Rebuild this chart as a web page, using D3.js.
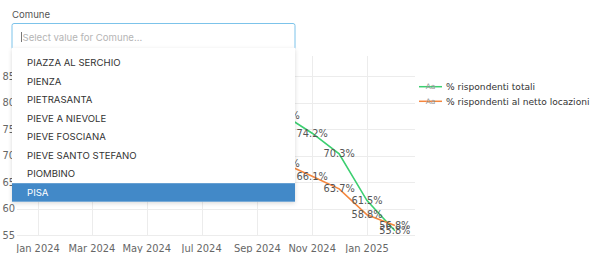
<!DOCTYPE html>
<html>
<head>
<style type="text/css">
body { margin: 0; background: #fff; }
.grid line { stroke: #ececec; stroke-width: 1; }
.axislabel { font-family: "DejaVu Sans"; font-size: 9.9px; fill: #666; }
.datalabel { font-family: "DejaVu Sans"; font-size: 9.8px; fill: #555; }
.legend text { font-family: "DejaVu Sans"; font-size: 9.1px; fill: #333; }
.ui { font-family: Inter, "Liberation Sans"; font-size: 9.6px; }
</style>
<script src="https://d3js.org/d3.v7.min.js"></script>
</head>
<body>
<script type="text/javascript">
var width  = 591;
var height = 253;

// monthly points, the early ones sit behind the open select menu
var months = ["2024-01-01","2024-02-01","2024-03-01","2024-04-01","2024-05-01","2024-06-01","2024-07-01",
              "2024-08-01","2024-09-01","2024-10-01","2024-11-01","2024-12-01","2025-01-01","2025-02-01"];
var totali = [83.9, 83.1, 82.6, 81.8, 81.2, 80.7, 79.9, 79.3, 78.4, 77.6, 74.2, 70.3, 61.5, 55.8];
var netto  = [72.8, 72.1, 71.9, 71.2, 70.8, 70.5, 70.0, 69.6, 69.1, 68.5, 66.1, 63.7, 58.8, 56.8];
var yTicks = [55, 60, 65, 70, 75, 80, 85];
var seriesNames = ["% rispondenti totali", "% rispondenti al netto locazioni"];
var colors = ["#3ccf70", "#f5873d"];
var comuni = ["PIAZZA AL SERCHIO", "PIENZA", "PIETRASANTA", "PIEVE A NIEVOLE",
              "PIEVE FOSCIANA", "PIEVE SANTO STEFANO", "PIOMBINO", "PISA"];
var selected = "PISA";

var parse = d3.utcParse("%Y-%m-%d");
var dates = months.map(parse);
// labels before this date are entirely hidden by the open menu
var firstLabel = parse("2024-10-01");

var svg = d3.select("body").append("svg").attr("width", width).attr("height", height);

var x = d3.scaleUtc().domain([parse("2024-01-01"), parse("2025-01-01")]).range([38, 367]);
var y = d3.scaleLinear().domain([55, 85]).range([235, 76]);
var left = 17, right = 415;

var xTicks = x.ticks(d3.utcMonth.every(2));

var grid = svg.append("g").attr("class", "grid");
grid.selectAll(".h").data(yTicks).enter().append("line")
	.attr("x1", left).attr("x2", right)
	.attr("y1", function(d){ return Math.round(y(d)) + 0.5; })
	.attr("y2", function(d){ return Math.round(y(d)) + 0.5; });
grid.selectAll(".v").data(xTicks).enter().append("line")
	.attr("y1", 56).attr("y2", 235)
	.attr("x1", function(d){ return Math.round(x(d)) + 0.5; })
	.attr("x2", function(d){ return Math.round(x(d)) + 0.5; });

svg.append("g").selectAll("text").data(yTicks).enter().append("text")
	.attr("class", "axislabel")
	.attr("x", 15).attr("y", function(d){ return y(d) + 3.5; })
	.attr("text-anchor", "end")
	.text(function(d){ return d; });

svg.append("g").selectAll("text").data(xTicks).enter().append("text")
	.attr("class", "axislabel")
	.attr("x", function(d){ return x(d); }).attr("y", 252)
	.attr("text-anchor", "middle")
	.text(d3.utcFormat("%b %Y"));

var series = [totali, netto];
var line = d3.line()
	.x(function(d, i){ return x(dates[i]); })
	.y(function(d){ return y(d); });

series.forEach(function(s, k) {
	svg.append("path").datum(s)
		.attr("fill", "none")
		.attr("stroke", colors[k])
		.attr("stroke-width", 1.6)
		.attr("d", line);
});
series.forEach(function(s) {
	var pts = s.map(function(v, i){ return {v: v, d: dates[i]}; })
		.filter(function(p){ return p.d >= firstLabel; });
	svg.append("g").selectAll("text").data(pts).enter().append("text")
		.attr("class", "datalabel")
		.attr("x", function(p){ return x(p.d); })
		.attr("y", function(p){ return y(p.v) + 3.5; })
		.attr("text-anchor", "middle")
		.text(function(p){ return p.v.toFixed(1) + "%"; });
});

var legend = svg.append("g").attr("class", "legend");
seriesNames.forEach(function(n, k) {
	var ly = 86.7 + k * 14.6;
	legend.append("line").attr("x1", 419).attr("x2", 442).attr("y1", ly).attr("y2", ly)
		.attr("stroke", colors[k]).attr("stroke-width", 1.5);
	legend.append("text").attr("x", 430.5).attr("y", ly + 2.6).attr("text-anchor", "middle")
		.style("font-size", "7.5px").style("fill", "#999").text("Aa");
	legend.append("text").attr("x", 446).attr("y", ly + 3.3).text(n);
});

// select control with its open menu
var defs = svg.append("defs");
var f = defs.append("filter").attr("id", "shadow").attr("x", "-10%").attr("y", "-10%").attr("width", "120%").attr("height", "130%");
f.append("feDropShadow").attr("dx", 0).attr("dy", 1.5).attr("stdDeviation", 2).attr("flood-color", "#000").attr("flood-opacity", 0.15);

svg.append("text").attr("class", "ui").attr("x", 12).attr("y", 17.5).style("fill", "#555").text("Comune");

svg.append("rect").attr("x", 12).attr("y", 23.5).attr("width", 283).attr("height", 26).attr("rx", 2)
	.attr("fill", "#fff").attr("stroke", "#7cc3ea").attr("stroke-width", 1);
svg.append("line").attr("x1", 21.5).attr("x2", 21.5).attr("y1", 32).attr("y2", 42).attr("stroke", "#555").attr("stroke-width", 0.8);
svg.append("text").attr("class", "ui").attr("x", 22.5).attr("y", 40.5).style("fill", "#b5b5b5").text("Select value for Comune...");

svg.append("rect").attr("x", 12).attr("y", 48).attr("width", 283).attr("height", 153.7)
	.attr("fill", "#fff").attr("filter", "url(#shadow)");

var itemY = d3.scaleBand().domain(comuni).range([53.7, 201.7]);
svg.append("rect").attr("x", 12).attr("y", itemY(selected)).attr("width", 283).attr("height", itemY.bandwidth())
	.attr("fill", "#4289c8");
svg.append("g").selectAll("text").data(comuni).enter().append("text")
	.attr("class", "ui")
	.attr("x", 27).attr("y", function(d){ return itemY(d) + itemY.bandwidth() / 2 + 3.5; })
	.style("fill", function(d){ return d === selected ? "#fff" : "#333"; })
	.text(function(d){ return d; });
</script>
</body>
</html>
